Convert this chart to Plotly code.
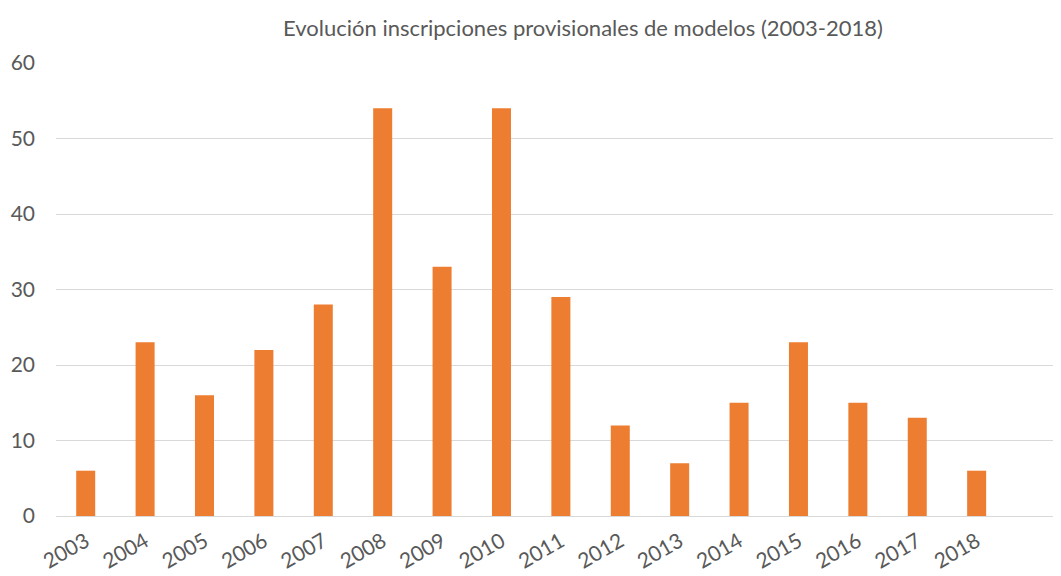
import plotly.graph_objects as go

years = ["2003", "2004", "2005", "2006", "2007", "2008", "2009", "2010",
         "2011", "2012", "2013", "2014", "2015", "2016", "2017", "2018"]
values = [6, 23, 16, 22, 28, 54, 33, 54, 29, 12, 7, 15, 23, 15, 13, 6]
y_ticks = [0, 10, 20, 30, 40, 50, 60]

positions = list(range(len(years)))

font_family = "Lato, Open Sans, sans-serif"
txt = "#595959"

W, H = 1053, 568  # page body has an 8px margin

fig = go.Figure(go.Bar(
    x=positions, y=values, width=0.32,
    marker=dict(color="#ED7D31", line=dict(width=0)),
))

fig.update_layout(
    width=W, height=H,
    margin=dict(l=48, r=0, t=55, b=60, autoexpand=False),
    paper_bgcolor="white", plot_bgcolor="white",
    showlegend=False,
    font=dict(family=font_family, color=txt, size=20),
    title=dict(text="Evolución inscripciones provisionales de modelos (2003-2018)",
               x=575 / W, xanchor="center", y=1 - 20 / H, yanchor="middle",
               font=dict(size=22, color=txt, family=font_family)),
)
fig.update_xaxes(
    range=[-0.5, 16.42], tickvals=positions, ticktext=years,
    tickangle=-30, showgrid=False, showline=True, linecolor="#D9D9D9", linewidth=1,
    ticks="", tickfont=dict(size=21, color=txt), zeroline=False, automargin=False,
    ticklabelstandoff=4,
)
fig.update_yaxes(
    range=[0, 60], tickvals=y_ticks, showgrid=True, gridcolor="#D9D9D9", gridwidth=1,
    zeroline=False, showline=False, ticks="", tickfont=dict(size=21, color=txt),
    ticklabelstandoff=20, automargin=False,
)

fig.write_html("out.html")
